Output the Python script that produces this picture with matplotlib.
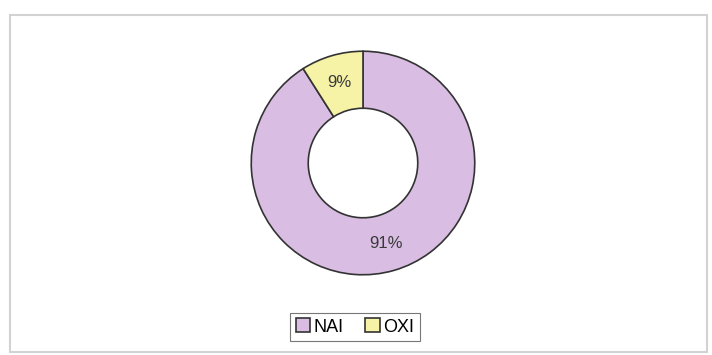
import matplotlib
matplotlib.use("Agg")
import matplotlib.pyplot as plt
from matplotlib.patches import Rectangle

# chart data
categories = ["NAI", "OXI"]
shares = [91, 9]
colors = ["#d9bde3", "#f6f3a6"]

plt.rcParams['font.family'] = ['Liberation Sans', 'DejaVu Sans']

fig = plt.figure(figsize=(7.12, 3.55), dpi=100)

# light frame around the chart area
fig.patches.append(Rectangle((10/712, 3/355), 697/712, 337/355, transform=fig.transFigure,
                             fill=False, edgecolor="#d2d2d2", linewidth=1.5))

# donut axes, centred on the ring
ax = fig.add_axes([249/712, 78/355, 228/712, 228/355])
wedges, texts, autotexts = ax.pie(
    shares, colors=colors, startangle=90, counterclock=False,
    radius=1.0, autopct='%1.0f%%', pctdistance=0.75,
    wedgeprops=dict(width=0.51, edgecolor="#333333", linewidth=1.2),
    textprops=dict(fontsize=12, color="#3a3a3a"))
ax.set_xlim(-1.02, 1.02)
ax.set_ylim(-1.02, 1.02)
ax.set_aspect('equal')
ax.axis('off')

leg = fig.legend(wedges, categories, loc='center', bbox_to_anchor=(355/712, 1 - 327/355),
                 ncol=2, frameon=True, fancybox=False, fontsize=13,
                 handlelength=0.8, handleheight=0.8, handletextpad=0.2,
                 columnspacing=1.2, borderpad=0.3, edgecolor="#555555")
leg.get_frame().set_linewidth(0.8)
for h in leg.legend_handles:
    h.set_edgecolor("#333333")
    h.set_linewidth(1.2)

fig.savefig("out.png", dpi=100)
